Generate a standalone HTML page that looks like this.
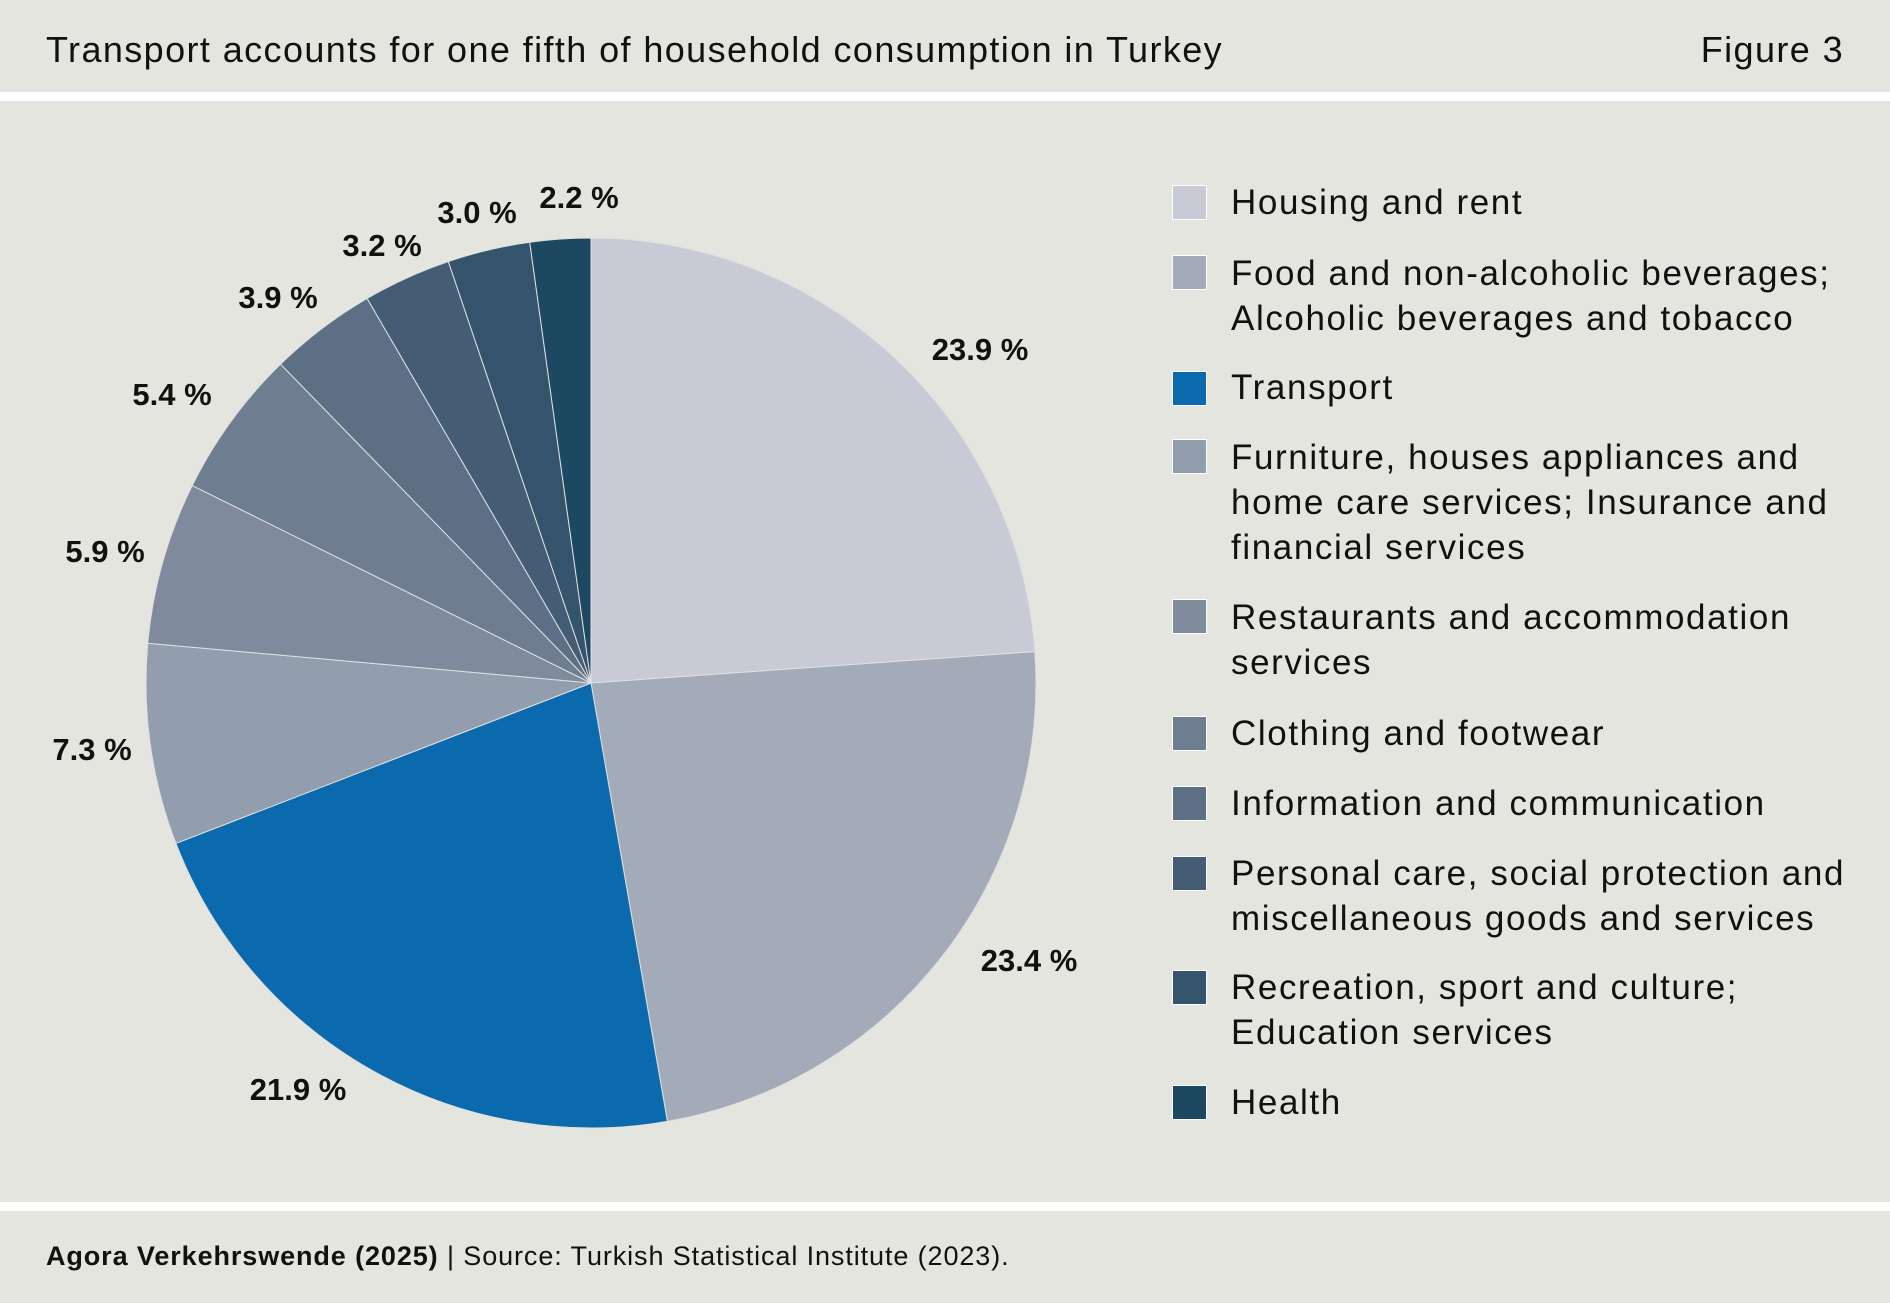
<!DOCTYPE html>
<html><head><meta charset="utf-8"><style>
*{margin:0;padding:0}
body{width:1890px;height:1303px;background:#fff;position:relative;overflow:hidden;font-family:"Liberation Sans",sans-serif;color:#111}
.band{position:absolute;left:0;width:1890px;background:#e5e5e0}
.t{position:absolute;white-space:nowrap}
.lbl{position:absolute;font-weight:bold;font-size:31px;transform:translate(-50%,-50%);white-space:nowrap}
.sw{position:absolute;left:1172px;width:33px;height:33px;border:1px solid #fff}
.lg{position:absolute;left:1231px;font-size:35px;line-height:45px;white-space:nowrap;letter-spacing:1.6px}
</style></head><body>
<div class="band" style="top:0;height:92px"></div>
<div class="band" style="top:101px;height:1101px"></div>
<div class="band" style="top:1211px;height:92px"></div>
<div class="t" style="left:46px;top:29px;font-size:36px;letter-spacing:1.4px">Transport accounts for one fifth of household consumption in Turkey</div>
<div class="t" style="right:46px;top:29px;font-size:36px;letter-spacing:1.4px">Figure 3</div>
<svg id="pie" style="position:absolute;left:0;top:0" width="1890" height="1303"></svg>
<div class="lbl" style="left:980px;top:350px">23.9 %</div>
<div class="lbl" style="left:1029px;top:961px">23.4 %</div>
<div class="lbl" style="left:298px;top:1090px">21.9 %</div>
<div class="lbl" style="left:92px;top:750px">7.3 %</div>
<div class="lbl" style="left:105px;top:552px">5.9 %</div>
<div class="lbl" style="left:172px;top:395px">5.4 %</div>
<div class="lbl" style="left:278px;top:298px">3.9 %</div>
<div class="lbl" style="left:382px;top:246px">3.2 %</div>
<div class="lbl" style="left:477px;top:213px">3.0 %</div>
<div class="lbl" style="left:579px;top:198px">2.2 %</div>

<div class="sw" style="top:185px;background:#c8cbd6"></div><div class="lg" style="top:180px">Housing and rent</div>
<div class="sw" style="top:255px;background:#a4abb8"></div><div class="lg" style="top:251px">Food and non-alcoholic beverages;<br>Alcoholic beverages and tobacco</div>
<div class="sw" style="top:371px;background:#0a6aad"></div><div class="lg" style="top:365px">Transport</div>
<div class="sw" style="top:439px;background:#929dad"></div><div class="lg" style="top:435px">Furniture, houses appliances and<br>home care services; Insurance and<br>financial services</div>
<div class="sw" style="top:599px;background:#7f8b9c"></div><div class="lg" style="top:595px">Restaurants and accommodation<br>services</div>
<div class="sw" style="top:716px;background:#6e7d8f"></div><div class="lg" style="top:711px">Clothing and footwear</div>
<div class="sw" style="top:786px;background:#5d6f84"></div><div class="lg" style="top:781px">Information and communication</div>
<div class="sw" style="top:856px;background:#455c75"></div><div class="lg" style="top:851px">Personal care, social protection and<br>miscellaneous goods and services</div>
<div class="sw" style="top:970px;background:#34546e"></div><div class="lg" style="top:965px">Recreation, sport and culture;<br>Education services</div>
<div class="sw" style="top:1085px;background:#1d4862"></div><div class="lg" style="top:1080px">Health</div>

<div class="t" style="left:46px;top:1241px;font-size:27px;letter-spacing:0.9px"><b>Agora Verkehrswende (2025)</b> | Source: Turkish Statistical Institute (2023).</div>
<script>
var v=[23.9,23.4,21.9,7.3,5.9,5.4,3.9,3.2,3.0,2.2];
var c=["#c8cbd6","#a4abb8","#0a6aad","#929dad","#7f8b9c","#6e7d8f","#5d6f84","#455c75","#34546e","#1d4862"];
var tot=v.reduce((a,b)=>a+b,0),cx=591,cy=683,r=445,a=0,s="";
v.forEach(function(x,i){var a2=a+x/tot*2*Math.PI;
var x1=cx+r*Math.sin(a),y1=cy-r*Math.cos(a),x2=cx+r*Math.sin(a2),y2=cy-r*Math.cos(a2);
s+='<path d="M'+cx+','+cy+'L'+x1+','+y1+'A'+r+','+r+' 0 '+((a2-a)>Math.PI?1:0)+' 1 '+x2+','+y2+'Z" fill="'+c[i]+'" stroke="#dfe0e0" stroke-width="1"/>';a=a2;});
document.getElementById('pie').innerHTML=s;
</script>
</body></html>
